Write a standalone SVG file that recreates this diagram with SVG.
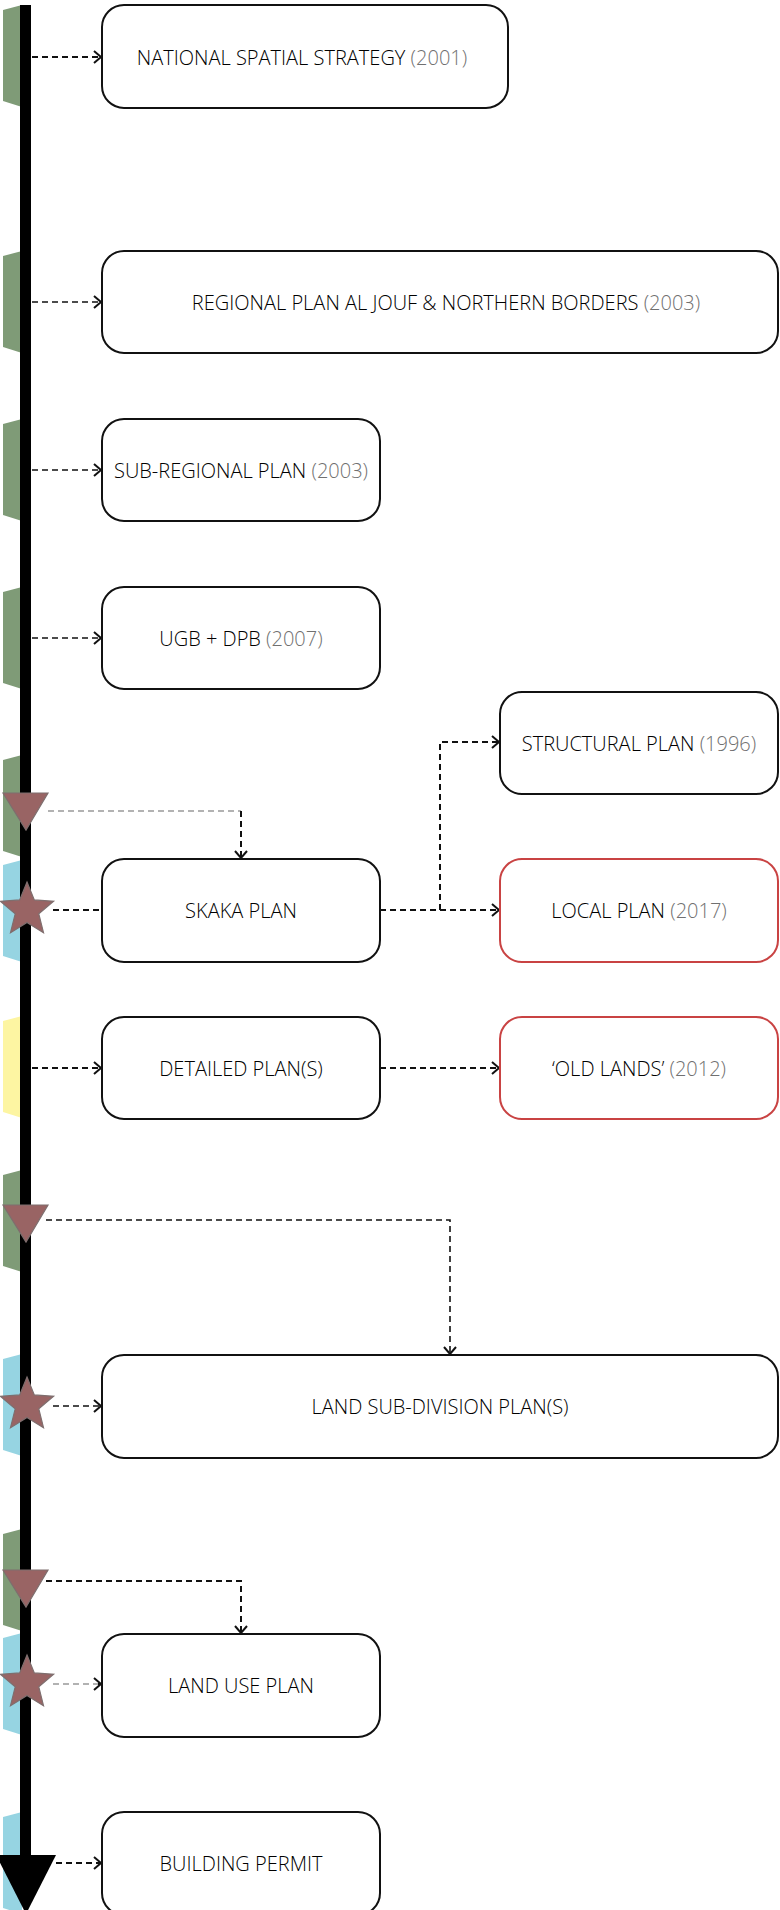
<svg xmlns="http://www.w3.org/2000/svg" width="780" height="1910" viewBox="0 0 780 1910">
<style>
.box{fill:#fff;stroke:#111;stroke-width:2}
.red{stroke:#c94343}
.t{font-family:"Open Sans","Liberation Sans",sans-serif;font-size:20px;font-weight:300;fill:#000;text-anchor:middle;dominant-baseline:central}
.y{fill:#707070}
.g{fill:#7f9b77}
.b{fill:#96d4e2}
.yl{fill:#fdf5a2}
.mk{fill:#996464;stroke:#7e6e6e;stroke-width:1.2}
.c{fill:none;stroke:#111;stroke-width:2;stroke-dasharray:6 4}
.cl{fill:none;stroke:#111;stroke-width:1.6;stroke-dasharray:6 4}
.cg{fill:none;stroke:#999;stroke-width:1.6;stroke-dasharray:6 4}
</style>
<defs>
<marker id="ah" markerUnits="userSpaceOnUse" markerWidth="12" markerHeight="16" refX="9" refY="7" orient="auto" viewBox="0 0 12 16">
<path d="M2,1 L9,7 L2,13" fill="none" stroke="#111" stroke-width="2"/>
</marker>
<polygon id="hex" points="3,5 22,0 22,102 3,96"/>
<path id="tri" d="M0,0 L45,0 L23,37 Z"/>
<path id="star" d="M0,-28 L7.3,-10.1 L26.6,-8.7 L11.8,3.8 L16.5,22.7 L0,12.4 L-16.5,22.7 L-11.8,3.8 L-26.6,-8.7 L-7.3,-10.1 Z"/>
</defs>
<g id="timeline">
<use href="#hex" class="g" y="5"/>
<use href="#hex" class="g" y="251"/>
<use href="#hex" class="g" y="419"/>
<use href="#hex" class="g" y="587"/>
<use href="#hex" class="g" y="755"/>
<use href="#hex" class="b" y="860"/>
<use href="#hex" class="yl" y="1016"/>
<use href="#hex" class="g" y="1170"/>
<use href="#hex" class="b" y="1354"/>
<use href="#hex" class="g" y="1529"/>
<use href="#hex" class="b" y="1633"/>
<use href="#hex" class="b" y="1812"/>
<rect x="20" y="5" width="11" height="1855" fill="#000"/>
<polygon points="-4,1855 56,1855 26,1914" fill="#000"/>
<use href="#tri" class="mk" x="3" y="793"/>
<use href="#tri" class="mk" x="3" y="1205"/>
<use href="#tri" class="mk" x="3" y="1570"/>
<use href="#star" class="mk" x="27" y="910"/>
<use href="#star" class="mk" x="27" y="1405"/>
<use href="#star" class="mk" x="27" y="1683"/>
</g>
<g id="connectors">
<path class="c" d="M32,57 H101" marker-end="url(#ah)"/>
<path class="cl" d="M32,302 H101" marker-end="url(#ah)"/>
<path class="cl" d="M32,470 H101" marker-end="url(#ah)"/>
<path class="cl" d="M32,638 H101" marker-end="url(#ah)"/>
<path class="cg" d="M48,811 H241"/>
<path class="c" d="M241,811 V858" marker-end="url(#ah)"/>
<path class="c" d="M53,910 H102"/>
<path class="c" d="M380,910 H499" marker-end="url(#ah)"/>
<path class="c" d="M440,910 V742 H499" marker-end="url(#ah)"/>
<path class="c" d="M32,1068 H101" marker-end="url(#ah)"/>
<path class="c" d="M380,1068 H499" marker-end="url(#ah)"/>
<path class="cl" d="M46,1220 H450 V1354" marker-end="url(#ah)"/>
<path class="cl" d="M53,1406 H101" marker-end="url(#ah)"/>
<path class="c" d="M46,1581 H241 V1633" marker-end="url(#ah)"/>
<path class="cg" d="M53,1684 H98"/>
<path class="c" d="M98,1684 H101" marker-end="url(#ah)" stroke-dasharray="none"/>
<path class="c" d="M56,1863 H101" marker-end="url(#ah)"/>
</g>
<g id="n1"><rect class="box" x="102" y="5" width="406" height="103" rx="22"/><text class="t" x="302" y="57">NATIONAL SPATIAL STRATEGY <tspan class="y">(2001)</tspan></text></g>
<g id="n2"><rect class="box" x="102" y="251" width="676" height="102" rx="22"/><text class="t" x="446" y="302">REGIONAL PLAN AL JOUF &amp; NORTHERN BORDERS <tspan class="y">(2003)</tspan></text></g>
<g id="n3"><rect class="box" x="102" y="419" width="278" height="102" rx="22"/><text class="t" x="241" y="470">SUB-REGIONAL PLAN <tspan class="y">(2003)</tspan></text></g>
<g id="n4"><rect class="box" x="102" y="587" width="278" height="102" rx="22"/><text class="t" x="241" y="638">UGB + DPB <tspan class="y">(2007)</tspan></text></g>
<g id="n5"><rect class="box" x="500" y="692" width="278" height="102" rx="22"/><text class="t" x="639" y="743">STRUCTURAL PLAN <tspan class="y">(1996)</tspan></text></g>
<g id="n6"><rect class="box" x="102" y="859" width="278" height="103" rx="22"/><text class="t" x="241" y="910">SKAKA PLAN</text></g>
<g id="n7"><rect class="box red" x="500" y="859" width="278" height="103" rx="22"/><text class="t" x="639" y="910">LOCAL PLAN <tspan class="y">(2017)</tspan></text></g>
<g id="n8"><rect class="box" x="102" y="1017" width="278" height="102" rx="22"/><text class="t" x="241" y="1068">DETAILED PLAN(S)</text></g>
<g id="n9"><rect class="box red" x="500" y="1017" width="278" height="102" rx="22"/><text class="t" x="639" y="1068">‘OLD LANDS’ <tspan class="y">(2012)</tspan></text></g>
<g id="n10"><rect class="box" x="102" y="1355" width="676" height="103" rx="22"/><text class="t" x="440" y="1406">LAND SUB-DIVISION PLAN(S)</text></g>
<g id="n11"><rect class="box" x="102" y="1634" width="278" height="103" rx="22"/><text class="t" x="241" y="1685">LAND USE PLAN</text></g>
<g id="n12"><rect class="box" x="102" y="1812" width="278" height="103" rx="22"/><text class="t" x="241" y="1863">BUILDING PERMIT</text></g>
</svg>
